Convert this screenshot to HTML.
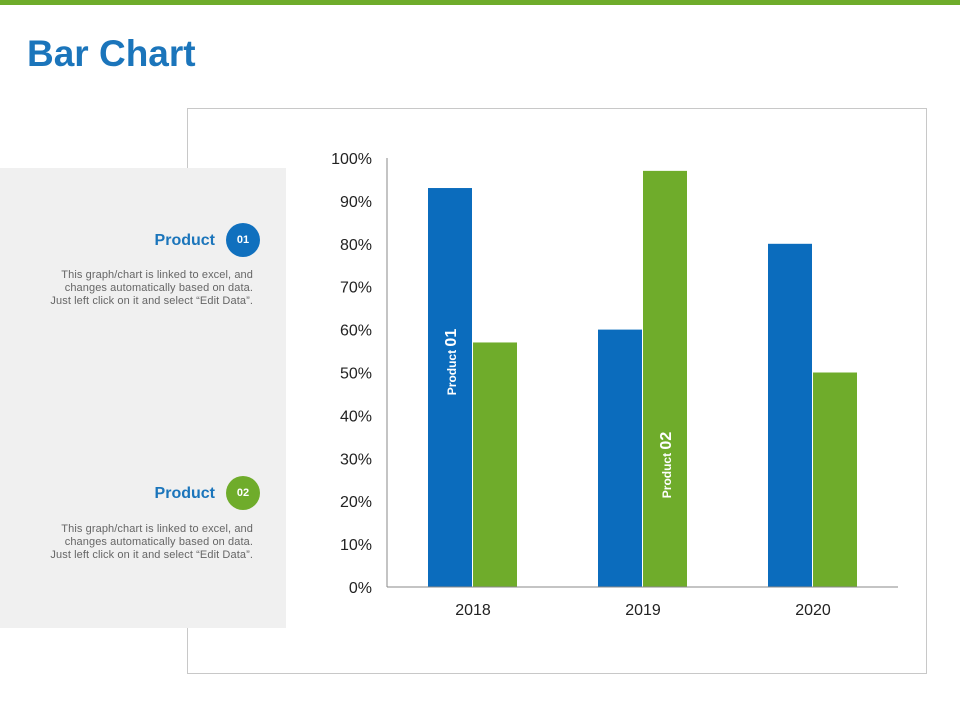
<!DOCTYPE html>
<html><head><meta charset="utf-8"><style>
body{margin:0;width:960px;height:720px;position:relative;background:#fff;font-family:"Liberation Sans",sans-serif;overflow:hidden}
.topbar{position:absolute;left:0;top:0;width:960px;height:5px;background:#6fac2b}
.title{position:absolute;left:27px;top:33px;font-size:37px;font-weight:bold;color:#1b75bb;letter-spacing:0px}
.frame{position:absolute;left:187px;top:108px;width:740px;height:566px;border:1px solid #c8c8c8;box-sizing:border-box}
.panel{position:absolute;left:0;top:168px;width:286px;height:460px;background:#f0f0f0}
.ph{position:absolute;right:71px;font-size:16px;font-weight:bold;color:#1b75bb}
.badge{position:absolute;left:226px;width:34px;height:34px;border-radius:50%;color:#fff;font-size:11px;font-weight:bold;text-align:center;line-height:34px}
.desc{position:absolute;right:33px;width:240px;text-align:right;font-size:11px;line-height:13px;color:#666;letter-spacing:0.1px}
svg{position:absolute;left:0;top:0}
</style></head><body>
<div class="topbar"></div>
<div class="title">Bar Chart</div>
<div class="frame"></div>
<div class="panel">
 <div class="ph" style="top:64px">Product</div>
 <div class="badge" style="top:55px;background:#1070be">01</div>
 <div class="desc" style="top:101px">This graph/chart is linked to excel, and<br>changes automatically based on data.<br>Just left click on it and select “Edit Data”.</div>
 <div class="ph" style="top:317px">Product</div>
 <div class="badge" style="top:308px;background:#6fac2b">02</div>
 <div class="desc" style="top:355px">This graph/chart is linked to excel, and<br>changes automatically based on data.<br>Just left click on it and select “Edit Data”.</div>
</div>
<svg id="chart" width="960" height="720"></svg>
<script>
const categories=["2018","2019","2020"];
const product01=[93,60,80];
const product02=[57,97,50];
const yTicks=[0,10,20,30,40,50,60,70,80,90,100];
const NS="http://www.w3.org/2000/svg";
const svg=document.getElementById("chart");
const y0=587,y1=158,xL=387,xR=898,groupW=170,groupStart=388;
function y(v){return y0-(v/100)*(y0-y1);}
function gx(i){return groupStart+groupW*i+groupW/2;}
function mk(t,a,txt){const e=document.createElementNS(NS,t);for(const k in a)e.setAttribute(k,a[k]);if(txt!=null)e.textContent=txt;svg.appendChild(e);return e;}
yTicks.forEach(v=>{const t=mk("text",{x:372,y:y(v)+6,"text-anchor":"end","font-size":"16","fill":"#222","font-family":"Liberation Sans, sans-serif"},v+"%");

});
categories.forEach((c,i)=>{
 const b1=mk("rect",{x:gx(i)-45,y:y(product01[i]),width:44,height:y0-y(product01[i]),fill:"#0b6cbd"});
 
 
 const b2=mk("rect",{x:gx(i),y:y(product02[i]),width:44,height:y0-y(product02[i]),fill:"#6fac2b"});
 
 
 const t=mk("text",{x:gx(i),y:615,"text-anchor":"middle","font-size":"16","fill":"#222","font-family":"Liberation Sans, sans-serif"},c);
 
 
});
const ax=mk("line",{x1:xL,y1:y1,x2:xL,y2:y0,stroke:"#888","stroke-width":1});


const bx=mk("line",{x1:xL,y1:y0,x2:xR,y2:y0,stroke:"#888","stroke-width":1});


function vlabel(cx,cy,name){const t=mk("text",{transform:`translate(${cx},${cy}) rotate(-90)`,"text-anchor":"middle","fill":"#fff","font-weight":"bold","font-family":"Liberation Sans, sans-serif"});
 const a=document.createElementNS(NS,"tspan");a.setAttribute("font-size","12");a.textContent="Product ";t.appendChild(a);
 const b=document.createElementNS(NS,"tspan");b.setAttribute("font-size","16");b.textContent=name;t.appendChild(b);
 
 }
vlabel(gx(0)-17,362,"01");
vlabel(gx(1)+28,465,"02");
</script>
</body></html>
